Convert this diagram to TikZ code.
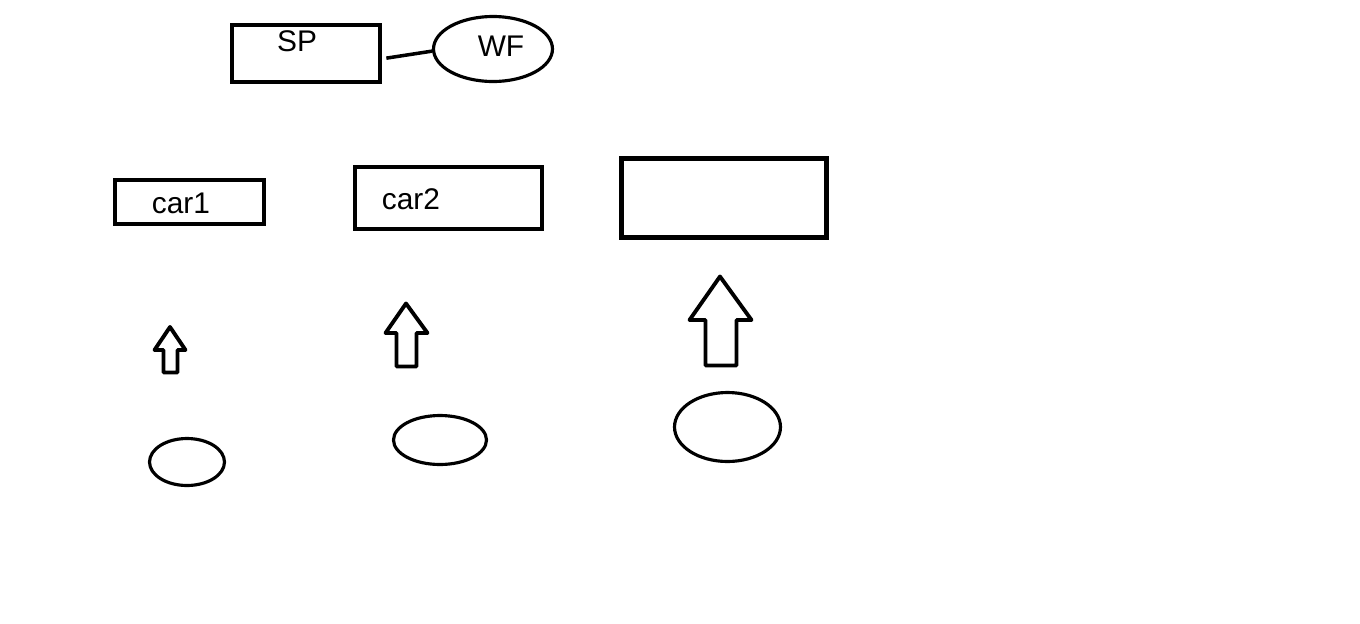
\documentclass[tikz,border=0pt]{standalone}
\usepackage{fontspec}
\setmainfont{Liberation Sans}
\usetikzlibrary{shapes.geometric}
\tikzstyle{box} = [rectangle, draw=black, line width=2.3pt, inner sep=0pt]
\tikzstyle{blob} = [ellipse, draw=black, line width=1.8pt, inner sep=0pt]
\tikzstyle{txt} = [inner sep=0pt, font=\fontsize{17}{20}\selectfont]
\tikzstyle{blockarrow} = [draw=black, line width=2.2pt, line join=round]

\begin{document}
\begin{tikzpicture}[x=0.02cm, y=-0.02cm]
\useasboundingbox (0,0) rectangle (1360,623);
% top row
\node (sp) [box, minimum width=2.96cm, minimum height=1.14cm] at (306,53.5) {};
\node (wf) [blob, minimum width=2.38cm, minimum height=1.3cm] at (493,49) {};
\node (spText) [txt] at (297,41) {SP};
\node (wfText) [txt] at (501,46) {WF};
\draw [line width=2pt, shorten <=2.5pt] (sp.-4) -- (wf.182);
% cars
\node (car1) [box, minimum width=2.98cm, minimum height=0.88cm] at (189.5,202) {};
\node (car2) [box, minimum width=3.74cm, minimum height=1.24cm] at (448.5,198) {};
\node (car3) [box, line width=2.8pt, minimum width=4.1cm, minimum height=1.58cm] at (724,198) {};
\node (car1Text) [txt] at (181,203) {car1};
\node (car2Text) [txt] at (411,199) {car2};
% arrows
\draw [blockarrow] (170,327) -- (185.5,350) -- (177.5,350) -- (177.5,372.5) -- (163.5,372.5) -- (163.5,350) -- (154.5,350) -- cycle;
\draw [blockarrow] (406,303.5) -- (427.5,333) -- (416.5,333) -- (416.5,366.5) -- (396.5,366.5) -- (396.5,333) -- (385.5,333) -- cycle;
\draw [blockarrow] (720,276.5) -- (751.5,320) -- (736.5,320) -- (736.5,365.5) -- (705.5,365.5) -- (705.5,320) -- (689.5,320) -- cycle;
% ellipses
\node (e1) [blob, minimum width=1.5cm, minimum height=0.94cm] at (187,462) {};
\node (e2) [blob, minimum width=1.86cm, minimum height=0.98cm] at (440,440) {};
\node (e3) [blob, minimum width=2.12cm, minimum height=1.38cm] at (727.5,427) {};
\end{tikzpicture}
\end{document}
